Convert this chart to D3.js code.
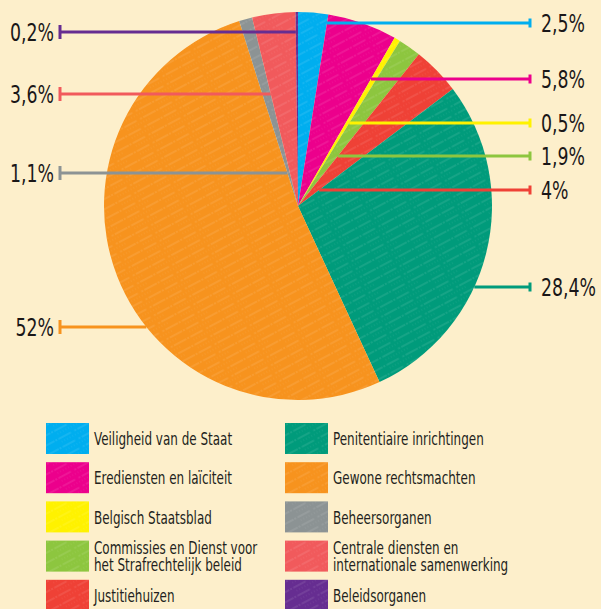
<!DOCTYPE html>
<head>
<meta charset="utf-8">
<title>Uitgaven Justitie</title>
<script src="https://d3js.org/d3.v7.min.js"></script>
<style>
body {
  margin: 0;
  background: #fdefcb;
  font-family: 'Liberation Sans Narrow', 'DejaVu Sans Condensed', sans-serif;
}
svg {
  display: block;
}
.pct {
  font-size: 25px;
  fill: #1a1718;
}
.legend text {
  font-size: 18px;
  fill: #231f20;
}
</style>
</head>
<body>
<script>

// data
const categories = ["Veiligheid van de Staat", "Erediensten en laïciteit", "Belgisch Staatsblad",
  "Commissies en Dienst voor\nhet Strafrechtelijk beleid", "Justitiehuizen",
  "Penitentiaire inrichtingen", "Gewone rechtsmachten", "Beheersorganen",
  "Centrale diensten en\ninternationale samenwerking", "Beleidsorganen"];
const values = [2.5, 5.8, 0.5, 1.9, 4, 28.4, 52, 1.1, 3.6, 0.2];
const valueLabels = ["2,5%", "5,8%", "0,5%", "1,9%", "4%", "28,4%", "52%", "1,1%", "3,6%", "0,2%"];
const colors = ["#00aeef", "#ec008c", "#fff200", "#8dc63f", "#ef4136",
  "#009b7b", "#f7931e", "#8c9394", "#f15a5c", "#662d91"];

// layout: y of each leader line
const labelY = [23, 79, 123, 156, 190, 287, 327, 173, 94, 32];

const width = 601, height = 609;
const cx = 298, cy = 206, radius = 194;
const rightTickX = 530, leftTickX = 60;
const squeeze = 0.77; // condensed look

const svg = d3.select('body').append('svg')
  .attr('width', width)
  .attr('height', height);

svg.append('rect').attr('width', width).attr('height', height).attr('fill', '#fdefcb');

// sketchy hatch texture
const defs = svg.append('defs');
const pat = defs.append('pattern')
  .attr('id', 'hatch')
  .attr('patternUnits', 'userSpaceOnUse')
  .attr('width', 40).attr('height', 9)
  .attr('patternTransform', 'rotate(-28)');
pat.append('line').attr('x1', 0).attr('y1', 2).attr('x2', 40).attr('y2', 2)
  .attr('stroke', '#fff').attr('stroke-width', 0.6).attr('stroke-dasharray', '2 1.5 14 4')
  .attr('opacity', 0.28);
pat.append('line').attr('x1', 5).attr('y1', 6).attr('x2', 30).attr('y2', 6)
  .attr('stroke', '#fff').attr('stroke-width', 0.5).attr('stroke-dasharray', '1 2')
  .attr('opacity', 0.2);

const pie = d3.pie().sort(null).value(d => d);
const arcs = pie(values);
const arc = d3.arc().innerRadius(0).outerRadius(radius);

const g = svg.append('g').attr('transform', 'translate(' + cx + ',' + cy + ')');

g.selectAll('path.slice')
  .data(arcs)
  .enter().append('path')
  .attr('class', 'slice')
  .attr('d', arc)
  .attr('fill', (d, i) => colors[i]);

g.selectAll('path.tex')
  .data(arcs)
  .enter().append('path')
  .attr('class', 'tex')
  .attr('d', arc)
  .attr('fill', 'url(#hatch)');

// leader lines
function leaderStart(d, i) {
  const dy = labelY[i] - cy;
  const right = (d.startAngle + d.endAngle) / 2 < Math.PI;
  let edgeA = Math.acos(-dy / radius);
  if (!right) edgeA = 2 * Math.PI - edgeA;
  if (edgeA >= d.startAngle && edgeA <= d.endAngle) {
    const w = Math.sqrt(radius * radius - dy * dy);
    return right ? cx + w : cx - w;
  }
  const b = right ? d.endAngle : d.startAngle;
  const t = -dy / Math.cos(b);
  return cx + t * Math.sin(b);
}

const leaders = svg.append('g').selectAll('g')
  .data(arcs)
  .enter().append('g');

leaders.each(function(d, i) {
  const sel = d3.select(this);
  const right = (d.startAngle + d.endAngle) / 2 < Math.PI;
  const x0 = leaderStart(d, i);
  const x1 = right ? rightTickX : leftTickX;
  const y = labelY[i];
  const tickH = right ? 9 : 14;
  sel.append('line')
    .attr('x1', x0).attr('x2', x1).attr('y1', y).attr('y2', y)
    .attr('stroke', colors[i]).attr('stroke-width', 3);
  sel.append('line')
    .attr('x1', x1).attr('x2', x1).attr('y1', y - tickH / 2).attr('y2', y + tickH / 2)
    .attr('stroke', colors[i]).attr('stroke-width', 3);
  sel.append('text')
    .attr('class', 'pct')
    .attr('transform', 'translate(' + (right ? x1 + 11 : x1 - 6) + ',' + y + ') scale(' + squeeze + ',1)')
    .attr('dy', '0.36em')
    .attr('text-anchor', right ? 'start' : 'end')
    .text(valueLabels[i]);
});

// legend
const legend = svg.append('g').attr('class', 'legend')
  .selectAll('g')
  .data(categories)
  .enter().append('g')
  .attr('transform', (d, i) => 'translate(' + (Math.floor(i / 5) ? 285 : 46) + ',' + (423 + (i % 5) * 39.2) + ')');

legend.append('rect')
  .attr('width', 43).attr('height', 31)
  .attr('fill', (d, i) => colors[i]);
legend.append('rect')
  .attr('width', 43).attr('height', 31)
  .attr('fill', 'url(#hatch)');

legend.append('text')
  .attr('transform', 'translate(48,0) scale(0.74,1)')
  .each(function(d) {
    const lines = d.split('\n');
    const t = d3.select(this);
    lines.forEach((l, k) => {
      t.append('tspan')
        .attr('x', 0)
        .attr('y', 15.5 + (k - (lines.length - 1) / 2) * 17)
        .attr('dy', '0.37em')
        .text(l);
    });
  });

</script>
</body>
